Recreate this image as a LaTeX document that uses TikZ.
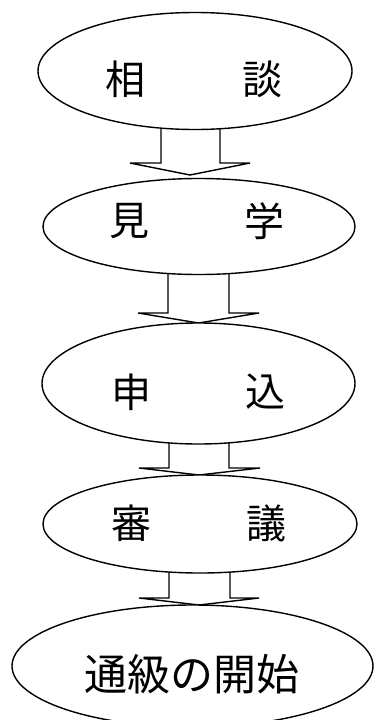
\documentclass[tikz,border=0pt]{standalone}
\usepackage{fontspec}
\newfontfamily\cjk{Noto Sans CJK JP}
\usetikzlibrary{shapes.geometric}
\begin{document}
\begin{tikzpicture}[x=1pt,y=-1pt,
  oval/.style={draw,ellipse,line width=1.4pt,fill=white,inner sep=0pt},
  lbl/.style={font=\cjk\fontsize{40}{40}\selectfont,inner sep=0pt},
  biglbl/.style={font=\cjk\fontsize{43}{43}\selectfont,inner sep=0pt},
  blockarrow/.style={draw,line width=1.4pt,fill=white,line join=miter}]
\useasboundingbox (0,0) rectangle (376,720);
% block arrows
\draw[blockarrow] (161,110) -- (161,163) -- (130,163) -- (190,175) -- (250,163) -- (220,163) -- (220,110);
\draw[blockarrow] (168,260) -- (168,313) -- (138,313) -- (198.5,323) -- (259,313) -- (229,313) -- (229,260);
\draw[blockarrow] (169,430) -- (169,468) -- (139,468) -- (199,475) -- (260,468) -- (229,468) -- (229,430);
\draw[blockarrow] (169,560) -- (169,598) -- (139,598) -- (199,605) -- (259,598) -- (230,598) -- (230,560);
% ovals
\node[oval,minimum width=314pt,minimum height=117pt] (e1) at (195,71) {};
\node[oval,minimum width=312pt,minimum height=96pt] (e2) at (199,226.5) {};
\node[oval,minimum width=313pt,minimum height=121pt] (e3) at (198.5,383.5) {};
\node[oval,minimum width=314pt,minimum height=98pt] (e4) at (200,524) {};
\node[oval,minimum width=361pt,minimum height=122pt] (e5) at (192.5,666) {};
% labels
\node[lbl] (t1a) at (125,79) {相};
\node[lbl] (t1b) at (262,79) {談};
\node[lbl] (t2a) at (129,221) {見};
\node[lbl] (t2b) at (264,221) {学};
\node[lbl] (t3a) at (131,392) {申};
\node[lbl] (t3b) at (265,392) {込};
\node[lbl] (t4a) at (131,523) {審};
\node[lbl] (t4b) at (266,523) {議};
\node[biglbl] (t5) at (192,674) {通級の開始};
\end{tikzpicture}
\end{document}
